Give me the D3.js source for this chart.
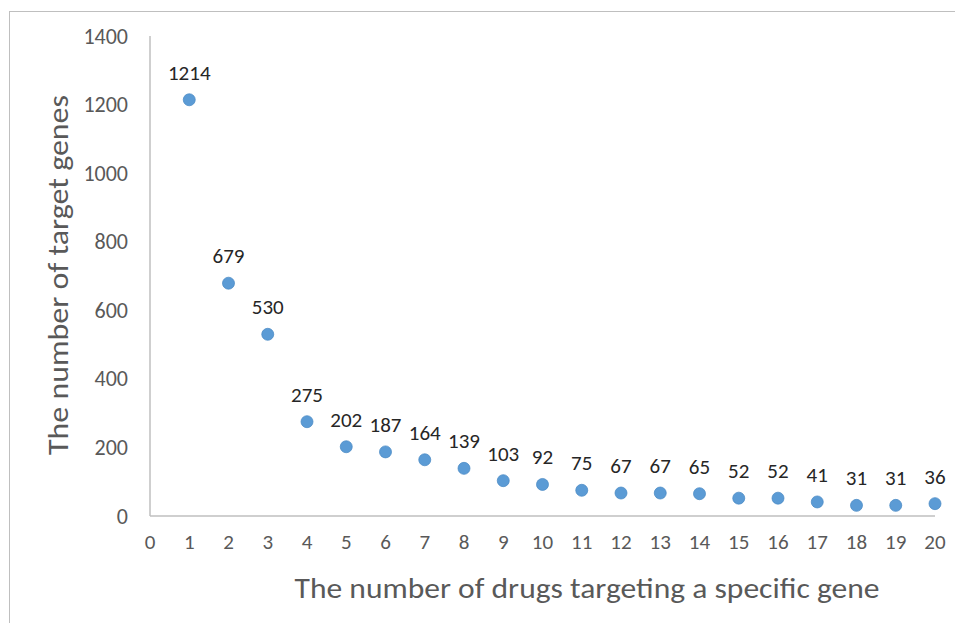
<!DOCTYPE html>
<html>
<head>
<meta charset="utf-8">
<script src="https://cdn.jsdelivr.net/npm/d3@7"></script>
<style>
  html, body { margin: 0; padding: 0; background: #fff; }
  svg { display: block; }
  text { font-family: Carlito, Calibri, "Open Sans", sans-serif; }
</style>
</head>
<body>
<svg id="chart" width="955" height="623"></svg>
<script>
const drugCounts = [1,2,3,4,5,6,7,8,9,10,11,12,13,14,15,16,17,18,19,20];
const geneCounts = [1214,679,530,275,202,187,164,139,103,92,75,67,67,65,52,52,41,31,31,36];
const xTicks = d3.range(0, 21);
const yTicks = [0,200,400,600,800,1000,1200,1400];
const xTitle = "The number of drugs targeting a specific gene";
const yTitle = "The number of target genes";

const svg = d3.select("#chart");
const W = 955, H = 623;

svg.append("rect")
  .attr("x", 9.5).attr("y", 11.5)
  .attr("width", W + 10).attr("height", H + 10)
  .attr("fill", "none").attr("stroke", "#bfbfbf").attr("stroke-width", 1);

const x = d3.scaleLinear().domain([0, 20]).range([150, 935]);
const y = d3.scaleLinear().domain([0, 1400]).range([516, 36]);

// axes lines
svg.append("line")
  .attr("x1", x(0)).attr("x2", x(0))
  .attr("y1", y(1400)).attr("y2", y(0))
  .attr("stroke", "#bfbfbf").attr("stroke-width", 1.5);
svg.append("line")
  .attr("x1", x(0)).attr("x2", x(20))
  .attr("y1", y(0)).attr("y2", y(0))
  .attr("stroke", "#bfbfbf").attr("stroke-width", 1.5);

// y tick labels
svg.append("g").selectAll("text").data(yTicks).join("text")
  .attr("x", 128).attr("y", d => y(d) + 7.5)
  .attr("text-anchor", "end")
  .attr("font-size", 22)
  .attr("fill", "#595959")
  .text(d => d);

// x tick labels
svg.append("g").selectAll("text").data(xTicks).join("text")
  .attr("x", d => x(d)).attr("y", 549)
  .attr("text-anchor", "middle")
  .attr("font-size", 21)
  .attr("fill", "#595959")
  .text(d => d);

// points
const pts = drugCounts.map((d, i) => ({x: d, y: geneCounts[i]}));
svg.append("g").selectAll("circle").data(pts).join("circle")
  .attr("cx", d => x(d.x)).attr("cy", d => y(d.y))
  .attr("r", 6)
  .attr("fill", "#5b9bd5")
  .attr("stroke", "#4a89c4").attr("stroke-width", 0.75);

// data labels
svg.append("g").selectAll("text").data(pts).join("text")
  .attr("x", d => x(d.x)).attr("y", d => y(d.y) - 20)
  .attr("text-anchor", "middle")
  .attr("font-size", 21)
  .attr("fill", "#262626")
  .text(d => d.y);

// axis titles
svg.append("text")
  .attr("x", 587).attr("y", 598)
  .attr("text-anchor", "middle")
  .attr("font-size", 28)
  .attr("fill", "#595959")
  .attr("textLength", 585).attr("lengthAdjust", "spacingAndGlyphs")
  .text(xTitle);

svg.append("text")
  .attr("transform", "translate(68,275) rotate(-90)")
  .attr("text-anchor", "middle")
  .attr("font-size", 28)
  .attr("fill", "#595959")
  .attr("textLength", 360).attr("lengthAdjust", "spacingAndGlyphs")
  .text(yTitle);
</script>
</body>
</html>
